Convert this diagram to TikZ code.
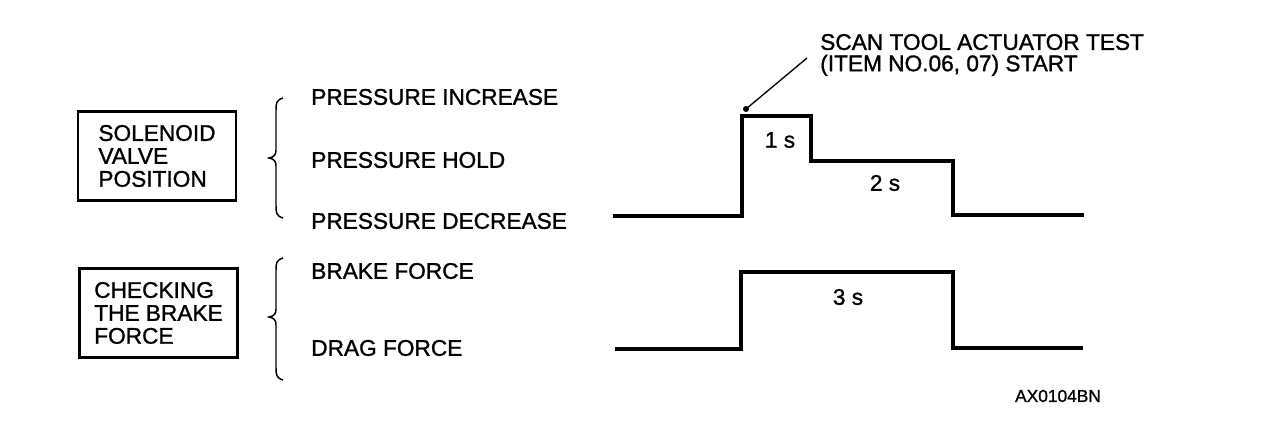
\documentclass[tikz,border=0pt]{standalone}
\usepackage{fontspec}
\setmainfont{Liberation Sans}[FakeBold=1.2]
\begin{document}
\begin{tikzpicture}[x=0.75pt,y=-0.75pt,
  every node/.style={font=\fontsize{17}{16.5}\selectfont, inner sep=0pt},
  lbl/.style={anchor=west},
  boxnode/.style={draw, line width=1.6pt, align=left,
    minimum width=118.5pt, minimum height=66.75pt, font=\fontsize{17}{17.2}\selectfont},
  wave/.style={line width=3.2pt, line join=miter},
  bracel/.style={line width=1.1pt},
  lead/.style={line width=1pt}]
\useasboundingbox (0,0) rectangle (1280,448);

% boxes
\node[boxnode] (box1) at (157,156) {SOLENOID\\VALVE\\POSITION};
\node[boxnode] (box2) at (158.5,313) {CHECKING\\THE BRAKE\\FORCE};

% braces
\draw[bracel] (283,98) .. controls (276,100) and (276,104) .. (276,110)
  -- (276,150) .. controls (276,155) and (274,157) .. (269,158)
  .. controls (274,159) and (276,161) .. (276,166) -- (276,206)
  .. controls (276,212) and (276,216) .. (283,218);
\draw[bracel] (283,258) .. controls (276,260) and (276,264) .. (276,270)
  -- (276,309) .. controls (276,314) and (274,316) .. (269,317)
  .. controls (274,318) and (276,320) .. (276,325) -- (276,368)
  .. controls (276,374) and (276,378) .. (283,380);

% labels
\node[lbl] (pinc) at (311,97) {PRESSURE INCREASE};
\node[lbl] (phold) at (311,160) {PRESSURE HOLD};
\node[lbl] (pdec) at (311,221) {PRESSURE DECREASE};
\node[lbl] (bforce) at (311,271) {BRAKE FORCE};
\node[lbl] (dforce) at (311,348) {DRAG FORCE};

% waveform 1
\coordinate (a0) at (613,216);
\coordinate (a1) at (742,216);
\coordinate (a2) at (742,116);
\coordinate (a3) at (811,116);
\coordinate (a4) at (811,161);
\coordinate (a5) at (953,161);
\coordinate (a6) at (953,215);
\coordinate (a7) at (1084,215);
\draw[wave] (a0) -- (a1) -- (a2) -- (a3) -- (a4) -- (a5) -- (a6) -- (a7);

% waveform 2
\coordinate (b0) at (615,349);
\coordinate (b1) at (741,349);
\coordinate (b2) at (741,272);
\coordinate (b3) at (953,272);
\coordinate (b4) at (953,348);
\coordinate (b5) at (1083,348);
\draw[wave] (b0) -- (b1) -- (b2) -- (b3) -- (b4) -- (b5);

% durations
\node (t1) at (780,140) {1 s};
\node (t2) at (885,183) {2 s};
\node (t3) at (848,297) {3 s};

% scan tool label and leader
\node[anchor=west, align=left, font=\fontsize{17}{16}\selectfont] (scan) at (820,55)
  {SCAN TOOL ACTUATOR TEST\\(ITEM NO.06, 07) START};
\coordinate (lead0) at (807,58);
\coordinate (dot) at (746,109);
\draw[lead] (lead0) -- (dot);
\fill (dot) circle (3);

% figure code
\node[font=\fontsize{13}{13}\selectfont] (code) at (1058,396) {AX0104BN};
\end{tikzpicture}
\end{document}
